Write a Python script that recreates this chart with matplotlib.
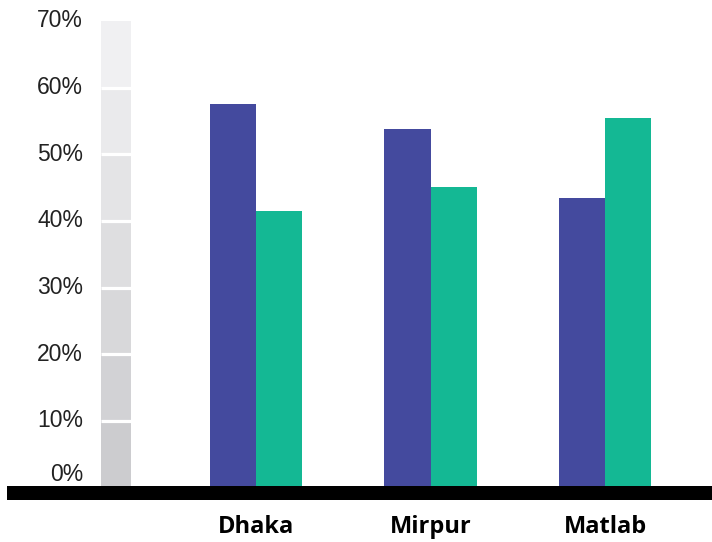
import matplotlib
matplotlib.use("Agg")
import matplotlib.pyplot as plt
import numpy as np

# data
cities = ["Dhaka", "Mirpur", "Matlab"]
series_a = [57.6, 53.8, 43.5]   # purple
series_b = [41.5, 45.1, 55.5]   # teal
tick_vals = [0, 10, 20, 30, 40, 50, 60, 70]
tick_labels = ["0%", "10%", "20%", "30%", "40%", "50%", "60%", "70%"]

purple = "#444a9e"
teal = "#14b894"

fig = plt.figure(figsize=(7.12, 5.42), dpi=100)
ax = fig.add_axes([0, 0.0771, 1, 0.8843])
ax.set_xlim(-1.467, 2.613)
ax.set_ylim(-1.9, 70)
ax.axis("off")

x = np.arange(len(cities))
w = 0.264
ax.bar(x - w / 2, series_a, width=w, color=purple, linewidth=0)
ax.bar(x + w / 2, series_b, width=w, color=teal, linewidth=0)

# gray scale column on the left
col_x = -0.802
col_w = 0.172
greys = np.linspace(0.80, 0.94, len(tick_vals) - 1)
for i in range(len(tick_vals) - 1):
    g = greys[i]
    ax.bar(col_x, 10, bottom=tick_vals[i], width=col_w,
           color=(g, g, g + 0.01), linewidth=0)
ax.hlines(tick_vals[1:-1], col_x - col_w / 2, col_x + col_w / 2,
          color="white", linewidth=2.3)

# black baseline
ax.axhspan(-1.9, 0.2, xmin=0.0098, xmax=1, color="black", linewidth=0)

# y labels
for v, lab in zip(tick_vals, tick_labels):
    yy = v + 2.0 if v == 0 else v
    ax.text(-0.991, yy, lab, ha="right", va="center", fontsize=16.5,
            family="Liberation Sans", color="#222222")

# category labels
for xi, c in zip(x, cities):
    ax.text(xi, -5.85, c, ha="center", va="center", fontsize=17,
            family="Open Sans", fontweight="bold", color="black", clip_on=False)

fig.savefig("out.png", dpi=100)
